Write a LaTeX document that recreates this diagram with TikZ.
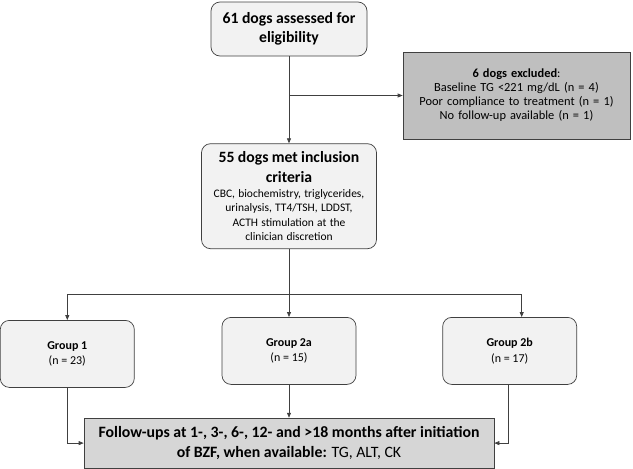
\documentclass[tikz,border=0pt]{standalone}
\usepackage{fontspec}
\setmainfont{Carlito}
\usepackage{tikz}
\usetikzlibrary{arrows.meta,positioning}
\setlength{\parindent}{0pt}
\definecolor{LineGray}{HTML}{404040}
\definecolor{BoxFill}{HTML}{F2F2F2}
\definecolor{ExclFill}{HTML}{BFBFBF}
\definecolor{FollowFill}{HTML}{D6D6D6}
\newcommand{\hdfont}{\fontsize{15.7}{19}\selectfont\bfseries}
\newcommand{\icfont}{\fontsize{15.7}{20}\selectfont\bfseries}
\newcommand{\exfont}{\fontsize{12.4}{14}\selectfont}
\newcommand{\ntfont}{\fontsize{11.5}{14.5}\selectfont}
\newcommand{\grfont}{\fontsize{12}{15.5}\selectfont}
\newcommand{\fufont}{\fontsize{15.8}{20}\selectfont}

\begin{document}
\begin{tikzpicture}[x=1pt,y=1pt,
  box/.style={draw=LineGray,fill=BoxFill,rounded corners=9pt,align=center,inner sep=1pt,line width=0.7pt},
  greybox/.style={draw=LineGray,align=center,inner sep=1pt,line width=0.7pt},
  arr/.style={-{Triangle[length=5pt,width=4pt]},LineGray,line width=0.7pt},
  ln/.style={LineGray,line width=0.7pt}
]
  \useasboundingbox (0,0) rectangle (633,-469);
  \node[box,minimum width=156pt,minimum height=54pt,font=\hdfont] (elig) at (289,-29) {61 dogs assessed for\\eligibility};
  \node[box,minimum width=175pt,minimum height=105pt,text width=172pt,below=87pt of elig] (incl)
    {{\icfont 55 dogs met inclusion\\criteria\par}{\ntfont CBC, biochemistry, triglycerides,\\urinalysis, TT4/TSH, LDDST,\\ACTH stimulation at the\\clinician discretion\par}};
  \node[greybox,fill=ExclFill,minimum width=227pt,minimum height=87pt,text width=224pt,font=\exfont] (excl) at (516.5,-95.5)
    {\textbf{6 dogs excluded}:\\Baseline TG <221 mg/dL (n = 4)\\Poor compliance to treatment (n = 1)\\No follow-up available (n = 1)};
  \node[box,minimum width=134pt,minimum height=67pt,font=\grfont,below=68pt of incl] (g2a) {\textbf{Group 2a}\\(n = 15)};
  \node[box,minimum width=134pt,minimum height=67pt,font=\grfont,left=87pt of g2a,yshift=-3pt] (g1) {\textbf{Group 1}\\(n = 23)};
  \node[box,minimum width=134pt,minimum height=67pt,font=\grfont,right=86pt of g2a] (g2b) {\textbf{Group 2b}\\(n = 17)};
  \node[greybox,fill=FollowFill,minimum width=410pt,minimum height=50pt,font=\fufont,below=33pt of g2a] (fu)
    {\textbf{Follow-ups at 1-, 3-, 6-, 12- and >18 months after initiation}\\\textbf{of BZF, when available:} TG, ALT, CK};

  % eligibility and exclusion
  \coordinate (split) at (elig.south |- excl.west);
  \draw[arr] (elig) -- (incl);
  \draw[arr] (split) -- (excl.west);

  % allocation to groups
  \coordinate (fork) at ([yshift=-45pt]incl.south);
  \coordinate (g2bin) at ([xshift=12pt]g2b.north);
  \draw[ln] (incl) -- (fork);
  \draw[arr] (fork -| g1.north) |- (fork) -| (g2bin);
  \draw[arr] (fork) -- (g2a);
  \draw[arr] (fork -| g1.north) -- (g1);

  % follow-up
  \coordinate (g2bout) at ([xshift=-1pt]g2b.south);
  \draw[arr] (g1) |- (fu.west);
  \draw[arr] (g2a) -- (fu);
  \draw[arr] (g2bout) |- (fu.east);
\end{tikzpicture}
\end{document}
